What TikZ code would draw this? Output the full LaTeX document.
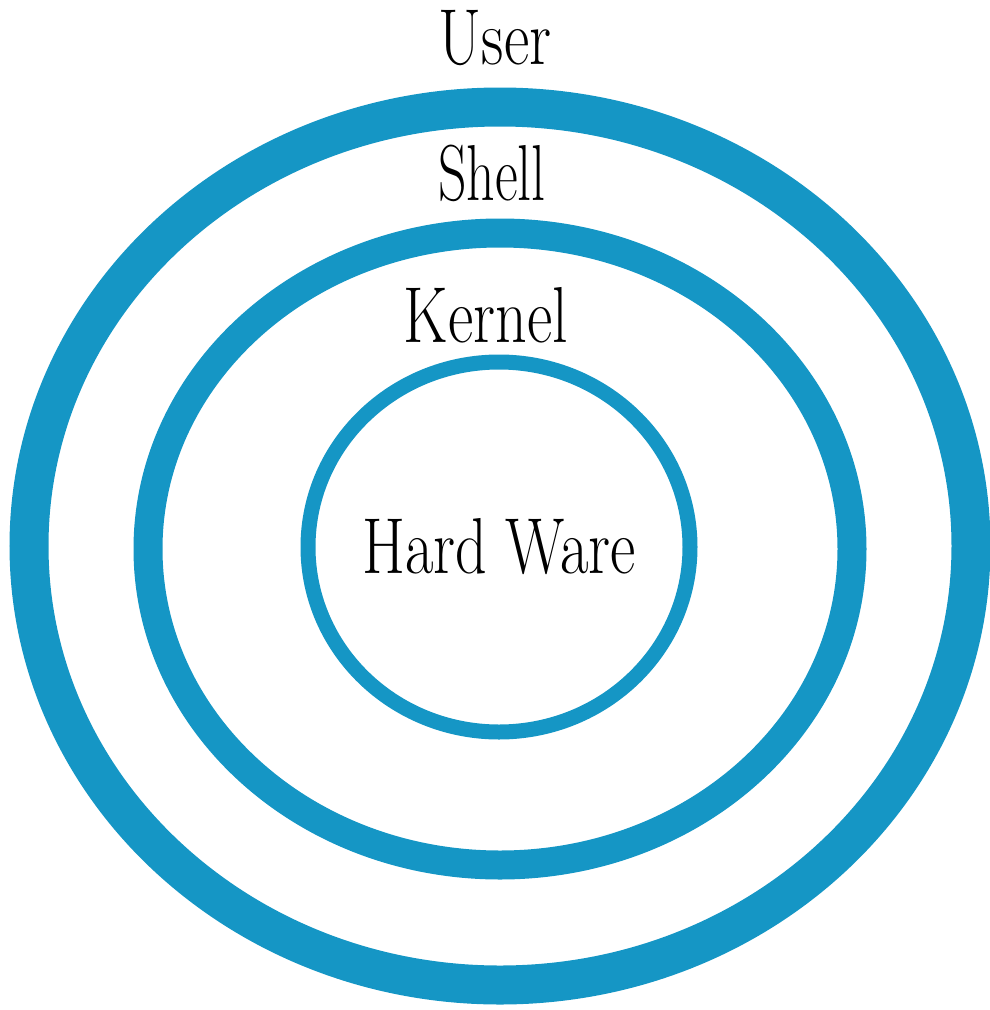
\documentclass[tikz,border=0pt]{standalone}
\usepackage{graphicx}
\usepackage{tikz}

\definecolor{ringblue}{RGB}{21,150,197}
\newcommand{\tallword}[1]{\scalebox{1}[1.28]{#1}}

\begin{document}
\begin{tikzpicture}[
    x=1pt, y=-1pt,
    ring/.style={
        draw=ringblue
    },
    layername/.style={
        font=\fontsize{62}{70}\selectfont,
        inner sep=0pt,
        anchor=base
    }
]
    \useasboundingbox (0,0) rectangle (990,1010);

    % rings, outer to inner
    \draw[ring, line width=39pt] (500,546) ellipse [x radius=471pt, y radius=439pt];
    \draw[ring, line width=29pt] (500,549) ellipse [x radius=352pt, y radius=316pt];
    \draw[ring, line width=15pt] (499,547) ellipse [x radius=191pt, y radius=185pt];

    % labels
    \node[layername] (user) at (495,64) {\tallword{User}};
    \node[layername] (shell) at (492,200) {\scalebox{0.9}[1.28]{Shell}};
    \node[layername] (kernel) at (486,342) {\tallword{Kernel}};
    \node[layername] (hardware) at (499,573) {\tallword{Hard Ware}};
\end{tikzpicture}
\end{document}
